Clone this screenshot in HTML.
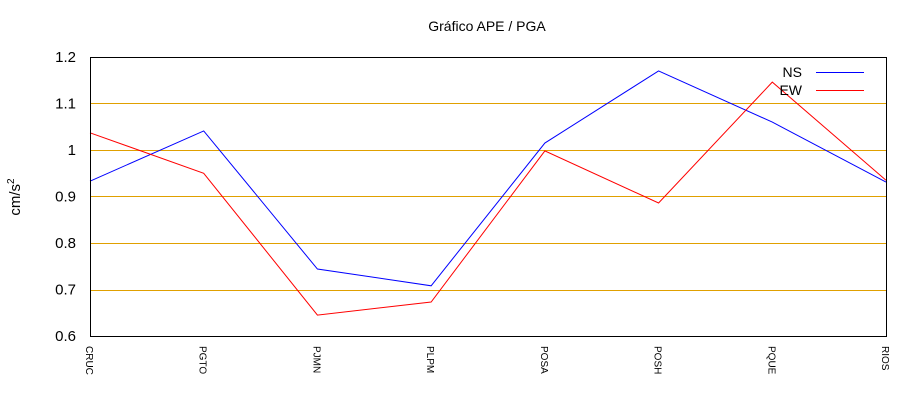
<!DOCTYPE html>
<html><head><meta charset="utf-8"><style>
body{margin:0;background:#fff;}
svg{display:block;font-family:"Liberation Sans",sans-serif;}
</style></head><body>
<svg id="chart" width="920" height="400">
<text x="487" y="31" font-size="14" text-anchor="middle">Gráfico  APE / PGA</text>
<g id="grid"></g>
<g id="yticks"></g>
<g id="xticks"></g>
<text transform="translate(20,197) rotate(-90)" font-size="15" text-anchor="middle">cm/s<tspan font-size="10" dy="-6">2</tspan></text>
<g id="series"></g>
<rect x="90.5" y="57.5" width="796" height="279" fill="none" stroke="#000" stroke-width="1" shape-rendering="crispEdges"/>
<g>
<g><text x="802" y="77" font-size="14" text-anchor="end">NS</text><line x1="816" y1="72.5" x2="864" y2="72.5" stroke="#0000ff"/></g>
<g><text x="802" y="95" font-size="14" text-anchor="end">EW</text><line x1="816" y1="90.5" x2="864" y2="90.5" stroke="#ff0000"/></g>
</g>
</svg>
<script>
const categories=["CRUC","PGTO","PJMN","PLPM","POSA","POSH","PQUE","RIOS"];
const nsValues=[0.933,1.041,0.744,0.708,1.015,1.170,1.06,0.931];
const ewValues=[1.037,0.950,0.645,0.673,0.998,0.886,1.146,0.935];
const yTicks=[0.6,0.7,0.8,0.9,1.0,1.1,1.2];
const yTickLabels=["0.6","0.7","0.8","0.9","1","1.1","1.2"];
const NS="http://www.w3.org/2000/svg";
const X0=90,X1=886,Y0=336,Y1=57,YMIN=0.6,YMAX=1.2;
function xs(i){return X0+(X1-X0)*i/(categories.length-1);}
function ys(v){return Y0-(v-YMIN)/(YMAX-YMIN)*(Y0-Y1);}
function mk(t,a,p){const e=document.createElementNS(NS,t);for(const k in a)e.setAttribute(k,a[k]);p.appendChild(e);return e;}
const grid=document.getElementById('grid'),yt=document.getElementById('yticks'),xt=document.getElementById('xticks'),se=document.getElementById('series');
yTicks.forEach((v,i)=>{
  const gy=Math.round(ys(v))+0.5;
  if(i>0&&i<yTicks.length-1){const l=mk('line',{x1:X0,x2:X1,y1:gy,y2:gy,stroke:'#e0a000','stroke-width':1,'shape-rendering':'crispEdges'},grid);
  
  }
  const t=mk('text',{x:76,y:ys(v)+5,'font-size':15,'text-anchor':'end'},yt);t.textContent=yTickLabels[i];
  
  
});
categories.forEach((c,i)=>{
  const t=mk('text',{transform:`translate(${xs(i)-4},346) rotate(90)`,'font-size':10},xt);t.textContent=c;
  
  
});
function line(vals,col,name){
  const p=mk('polyline',{points:vals.map((v,i)=>xs(i)+','+ys(v)).join(' '),fill:'none',stroke:col,'stroke-width':1},se);
  
  
}
line(nsValues,'#0000ff','ns-line');
line(ewValues,'#ff0000','ew-line');
</script>
</body></html>
